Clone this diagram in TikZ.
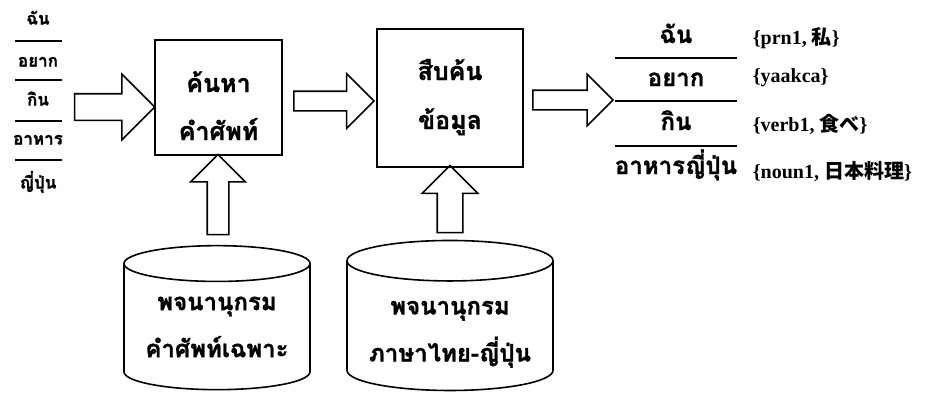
\documentclass[tikz,border=0pt]{standalone}
\usepackage{fontspec}
\setmainfont{Liberation Serif}
\newfontfamily\thai[Script=Thai, BoldFeatures={FakeBold=1.2}]{Loma}
\newfontfamily\jp{Noto Sans CJK JP}
\usetikzlibrary{shapes.geometric, shapes.arrows}

\begin{document}
\begin{tikzpicture}[x=1pt, y=-1pt, line width=1.6pt]
    \tikzstyle{every node} = [inner sep=0pt]
    \tikzstyle{box} = [rectangle, draw, align=center, font=\thai\bfseries\fontsize{25}{48}\selectfont]
    \tikzstyle{db} = [cylinder, shape border rotate=90, aspect=0.25, draw, align=center, font=\thai\bfseries\fontsize{24}{47}\selectfont]
    \tikzstyle{fat} = [single arrow, draw, minimum height=80]
    \tikzstyle{small} = [font=\thai\bfseries\fontsize{17}{20}\selectfont, text height=9pt, text depth=0pt]
    \tikzstyle{big} = [font=\thai\bfseries\fontsize{24}{28}\selectfont, text height=12pt, text depth=0pt]
    \tikzstyle{tag} = [anchor=west, font=\bfseries\fontsize{20}{22}\selectfont]

    \useasboundingbox (0,0) rectangle (928,399);

    \node[small] (a1) at (38, 20) {ฉัน};
    \node[small] (a2) at (38, 62) {อยาก};
    \node[small] (a3) at (38, 101) {กิน};
    \node[small] (a4) at (38, 140) {อาหาร};
    \node[small] (a5) at (38, 184) {ญี่ปุ่น};
    \foreach \y in {41, 80, 121, 160}
        \draw (15,\y) -- (62,\y);

    \node[box, minimum width=127, minimum height=115] (b) at (218.5, 97.5) {\rule{0pt}{40pt}ค้นหา\\คำศัพท์\rule[-3pt]{0pt}{0pt}};
    \node[box, minimum width=146, minimum height=138] (c) at (450, 98) {\rule{0pt}{40pt}สืบค้น\\[1pt]ข้อมูล\rule[-27pt]{0pt}{0pt}};

    \node[db, minimum width=186, minimum height=144] (d) at (217, 327) {พจนานุกรม\\คำศัพท์เฉพาะ};
    \node[db, minimum width=206, minimum height=150] (e) at (450, 326) {\rule{0pt}{30pt}พจนานุกรม\\ภาษาไทย-ญี่ปุ่น};

    \node[fat, inner sep=12.5, minimum width=64, single arrow head extend=19.5] (f) at (108, 107) {};
    \node[fat, inner sep=9, minimum width=53, single arrow head extend=17.5] (g) at (329, 101) {};
    \node[fat, inner sep=9, minimum width=50, single arrow head extend=16] (h) at (568, 100) {};
    \node[fat, inner sep=10, minimum width=53, single arrow head extend=16.5, shape border rotate=90] (i) at (218, 200) {};
    \node[fat, inner sep=12, minimum width=54, single arrow head extend=15, minimum height=67, shape border rotate=90] (j) at (450, 205.5) {};

    \node[big] (k) at (676, 37) {ฉัน};
    \node[big] (l) at (676, 80) {อยาก};
    \node[big] (m) at (676, 124) {กิน};
    \node[big] (n) at (676, 168) {อาหารญี่ปุ่น};
    \foreach \y in {58, 101, 146}
        \draw (615,\y) -- (737,\y);

    \node[tag] (o) at (752, 38) {\{prn1, {\jp 私}\}};
    \node[tag] (p) at (752, 78) {\{yaakca\}};
    \node[tag] (q) at (752, 124) {\{verb1, {\jp 食べ}\}};
    \node[tag] (r) at (752, 171) {\{noun1, {\jp 日本料理}\}};
\end{tikzpicture}
\end{document}
